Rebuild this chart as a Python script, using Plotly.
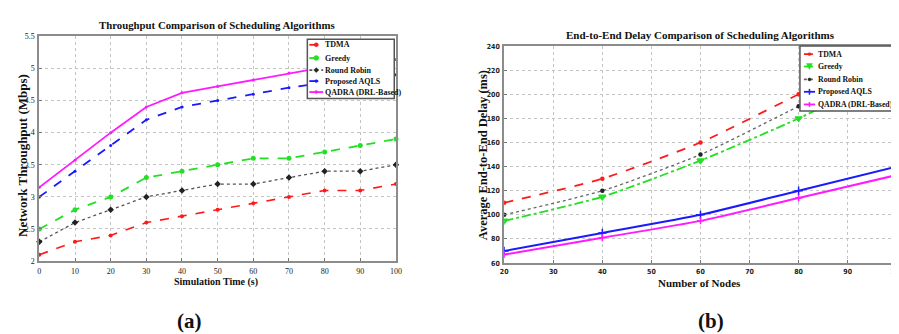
import plotly.graph_objects as go

W, H = 899, 334

# ---------------- data ----------------
time_s = [0, 10, 20, 30, 40, 50, 60, 70, 80, 90, 100]
thr_tdma = [2.1, 2.3, 2.4, 2.6, 2.7, 2.8, 2.9, 3.0, 3.1, 3.1, 3.2]
thr_greedy = [2.5, 2.8, 3.0, 3.3, 3.4, 3.5, 3.6, 3.6, 3.7, 3.8, 3.9]
thr_rr = [2.3, 2.6, 2.8, 3.0, 3.1, 3.2, 3.2, 3.3, 3.4, 3.4, 3.5]
thr_aqls = [3.0, 3.4, 3.8, 4.2, 4.4, 4.5, 4.6, 4.7, 4.78, 4.84, 4.9]
thr_qadra = [3.15, 3.57, 4.0, 4.4, 4.62, 4.72, 4.82, 4.93, 5.02, 5.08, 5.14]

nodes = [20, 40, 60, 80, 100]
dly_tdma = [110, 130, 160, 200, 240]
dly_greedy = [95, 115, 145, 180, 220]
dly_rr = [100, 120, 150, 190, 230]
dly_aqls = [70, 85, 100, 120, 140]
dly_qadra = [67, 81, 95, 114, 133]

names = ["TDMA", "Greedy", "Round Robin", "Proposed AQLS", "QADRA (DRL-Based)"]

x_ticks_a = list(range(0, 101, 10))
y_ticks_a = [2, 2.5, 3, 3.5, 4, 4.5, 5, 5.5]
x_ticks_b = list(range(20, 101, 10))
y_ticks_b = list(range(60, 241, 20))

RED, GREEN, BLACK, BLUE, MAG = "#ff1a1a", "#22e022", "#222222", "#1a1aff", "#ff1aff"
SERIF = "Liberation Serif, Times New Roman, serif"
NARROW = "DejaVu Sans Condensed, Liberation Sans Narrow, sans-serif"


def px(x):
    return x / W


def py(y):
    return 1 - y / H


fig = go.Figure()

# ---------- panel (a) ----------
styles_a = [
    (thr_tdma, RED, "dash", "circle", 4, 1.6),
    (thr_greedy, GREEN, "dash", "circle", 5, 1.8),
    (thr_rr, "#555555", "dot", "diamond", 5, 1.3),
    (thr_aqls, BLUE, "dash", "circle", 3, 1.8),
    (thr_qadra, MAG, "solid", "circle", 3, 1.8),
]
for (vals, col, dash, sym, ms, lw), nm in zip(styles_a, names):
    mcol = BLACK if nm == "Round Robin" else col
    fig.add_trace(go.Scatter(
        x=time_s, y=vals, name=nm, mode="lines+markers",
        line=dict(color=col, dash=dash, width=lw),
        marker=dict(symbol=sym, size=ms, color=mcol),
        xaxis="x", yaxis="y", showlegend=False, cliponaxis=False,
    ))

# ---------- panel (b) ----------
styles_b = [
    (dly_tdma, RED, "dash", "circle", 3, 1.8),
    (dly_greedy, GREEN, "dashdot", "triangle-down", 6, 1.8),
    (dly_rr, "#666666", "dot", "circle", 3, 1.3),
    (dly_aqls, BLUE, "solid", "cross-thin-open", 6, 2.0),
    (dly_qadra, MAG, "solid", "cross-thin-open", 5, 2.0),
]
for (vals, col, dash, sym, ms, lw), nm in zip(styles_b, names):
    mcol = BLACK if nm == "Round Robin" else col
    fig.add_trace(go.Scatter(
        x=nodes, y=vals, name=nm, mode="lines+markers",
        line=dict(color=col, dash=dash, width=lw, shape="spline", smoothing=0.6),
        marker=dict(symbol=sym, size=ms, color=mcol, line=dict(color=mcol, width=1.5)),
        xaxis="x2", yaxis="y2", showlegend=False,
    ))

axis_common = dict(
    showline=True, linecolor="#8c8c8c", linewidth=2, mirror=True,
    showgrid=True, gridcolor="#c4c4c4", griddash="dot", gridwidth=1,
    ticks="inside", ticklen=3, tickcolor="#777777", zeroline=False,
)

fig.update_layout(
    width=W, height=H, margin=dict(l=0, r=0, t=0, b=0),
    paper_bgcolor="white", plot_bgcolor="white", showlegend=False,
    xaxis=dict(domain=[px(27.7), px(388.7)], range=[0, 100], anchor="y",
               tickvals=x_ticks_a, tickfont=dict(family=SERIF, size=8, color="#222"),
               ticklabelstandoff=1, **axis_common),
    yaxis=dict(domain=[py(256), py(25)], range=[2, 5.5], anchor="x",
               tickvals=y_ticks_a, tickfont=dict(family=SERIF, size=8, color="#222"),
               ticklabelstandoff=1, **axis_common),
    xaxis2=dict(domain=[px(498.3), px(895.7)], range=[20, 100], anchor="y2",
                tickvals=x_ticks_b, tickfont=dict(family=NARROW, size=7, color="#222", weight="bold"),
                ticklabelstandoff=1, ticklabeloverflow="allow", **axis_common),
    yaxis2=dict(domain=[py(258), py(35)], range=[60, 240], anchor="x2",
                tickvals=y_ticks_b, tickfont=dict(family=NARROW, size=7, color="#222", weight="bold"),
                ticklabelstandoff=1, **axis_common),
)

ann = []


def text(x, y, s, size, angle=0, family=SERIF, xanchor="center"):
    ann.append(dict(x=px(x), y=py(y), xref="paper", yref="paper", text=s,
                    showarrow=False, textangle=angle, xanchor=xanchor, yanchor="middle",
                    font=dict(family=family, size=size, color="#111", weight="bold")))


text(208, 13, "Throughput Comparison of Scheduling Algorithms", 10.8)
text(207, 277, "Simulation Time (s)", 10)
text(10, 147, "Network Throughput (Mbps)", 13, angle=-90)
text(180, 318, "(a)", 21)

text(697, 24, "End-to-End Delay Comparison of Scheduling Algorithms", 11)
text(696, 279, "Number of Nodes", 11)
text(477, 147, "Average End-to-End Delay (ms)", 12.5, angle=-90)
text(708, 318, "(b)", 21)

shapes = []


def legend(box, rows, x0, x1, tx, styles, fsize):
    bx0, by0, bx1, by1 = box
    shapes.append(dict(type="rect", xref="paper", yref="paper",
                       x0=px(bx0), x1=px(bx1), y0=py(by1), y1=py(by0),
                       fillcolor="white", line=dict(color="#555555", width=1.5)))
    for yy, nm, st in zip(rows, names, styles):
        col, dash, sym, ms = st[1], st[2], st[3], st[4]
        mcol = BLACK if nm == "Round Robin" else col
        shapes.append(dict(type="line", xref="paper", yref="paper",
                           x0=px(x0), x1=px(x1), y0=py(yy), y1=py(yy),
                           line=dict(color=col, dash=dash, width=1.8)))
        xm = (x0 + x1) / 2
        r = max(ms, 3) / 2
        if sym in ("circle",):
            shapes.append(dict(type="circle", xref="paper", yref="paper",
                               x0=px(xm - r), x1=px(xm + r), y0=py(yy + r), y1=py(yy - r),
                               fillcolor=mcol, line=dict(color=mcol, width=0.5)))
        elif sym == "diamond":
            shapes.append(dict(type="path", xref="paper", yref="paper",
                               path=f"M {px(xm)} {py(yy - r)} L {px(xm + r)} {py(yy)} L {px(xm)} {py(yy + r)} L {px(xm - r)} {py(yy)} Z",
                               fillcolor=mcol, line=dict(color=mcol, width=0.5)))
        elif sym == "triangle-down":
            shapes.append(dict(type="path", xref="paper", yref="paper",
                               path=f"M {px(xm - r)} {py(yy - r)} L {px(xm + r)} {py(yy - r)} L {px(xm)} {py(yy + r)} Z",
                               fillcolor=mcol, line=dict(color=mcol, width=0.5)))
        else:  # cross
            shapes.append(dict(type="line", xref="paper", yref="paper",
                               x0=px(xm), x1=px(xm), y0=py(yy - r), y1=py(yy + r),
                               line=dict(color=mcol, width=1.5)))
        text(tx, yy, nm, fsize, xanchor="left")


legend((299, 28, 387, 89), [33.7, 47.3, 59.7, 71, 82.3], 301, 315, 315, styles_a, 8)
legend((797.7, 35, 893, 101.7), [43.3, 56, 69.3, 82, 95], 801.7, 813, 814, styles_b, 7.8)

fig.update_layout(annotations=ann, shapes=shapes)
fig.write_html("out.html")
